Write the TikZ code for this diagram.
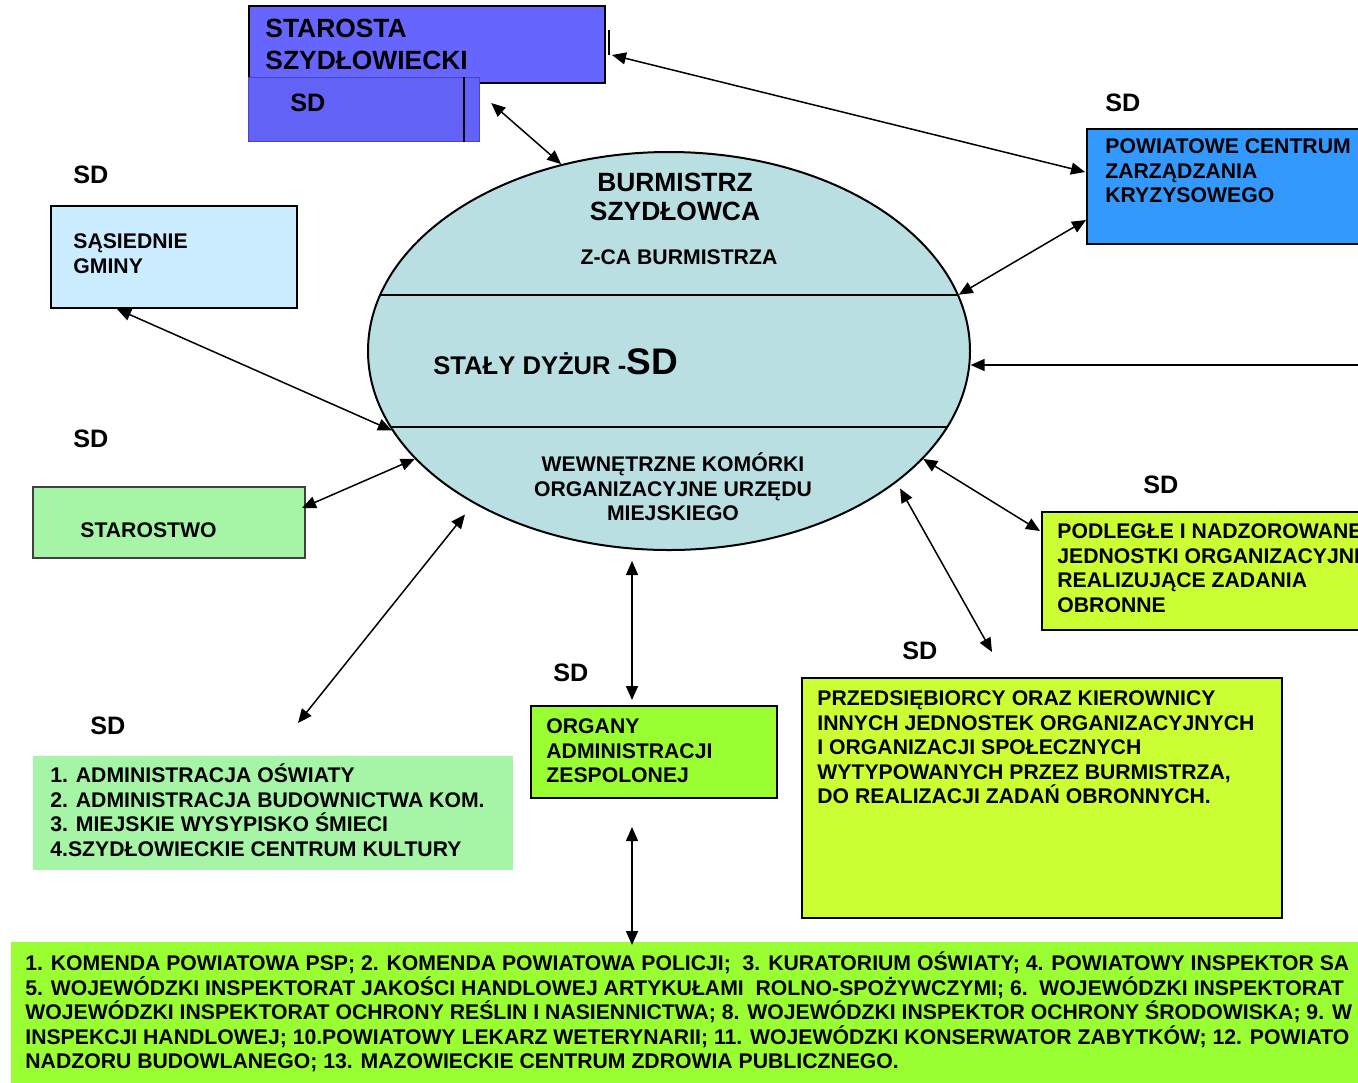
\documentclass[tikz,border=0pt]{standalone}
\usepackage{fontspec}
\setmainfont{Liberation Sans}
\usetikzlibrary{arrows.meta,shapes.geometric,calc}

\definecolor{starblue}{HTML}{6666FF}
\definecolor{sdblue}{HTML}{6262F6}
\definecolor{sdedge}{HTML}{4646C0}
\definecolor{ovalfill}{HTML}{BADFE3}
\definecolor{crisisblue}{HTML}{3399FF}
\definecolor{palesky}{HTML}{CCECFF}
\definecolor{palegreen}{HTML}{A6F5A6}
\definecolor{limegreen}{HTML}{99FF33}
\definecolor{limeyellow}{HTML}{CCFF33}

\begin{document}
\begin{tikzpicture}[x=0.5pt,y=-0.5pt,
    >={Triangle[length=7pt,width=6pt]},
    box/.style={draw=black,line width=1pt,anchor=north west,inner sep=0pt},
    wh/.style 2 args={minimum width=#1*0.5pt,minimum height=#2*0.5pt},
    txt/.style={anchor=base west,align=left,inner sep=0pt,
      font=\fontsize{10.6}{12.25}\selectfont\bfseries},
    ctxt/.style={anchor=base,align=center,inner sep=0pt,
      font=\fontsize{10.6}{12.25}\selectfont\bfseries},
    sdtag/.style={anchor=base west,inner sep=0pt,
      font=\fontsize{12.6}{15}\selectfont\bfseries},
    link/.style={<->,line width=0.75pt}]

  \useasboundingbox (0,0) rectangle (1358,1082);
  \clip (0,0) rectangle (1358,1082);

  % starosta and his SD
  \node[box,wh={356}{77},fill=starblue] (starosta) at (248,5) {};
  \node[box,wh={231}{64},fill=sdblue,draw=sdedge,line width=0.6pt] (sdbox) at (248,77) {};
  \draw[line width=1pt] ($(sdbox.north west)+(216,0)$) -- ($(sdbox.south west)+(216,0)$);
  % (base = last line of the text)
  \node[anchor=base west,align=left,inner sep=0pt,font=\fontsize{13.2}{16}\selectfont\bfseries]
    (starosta-t) at (265,69.5) {STAROSTA\\SZYDŁOWIECKI};
  \node[sdtag] (sdbox-t) at (290,111) {SD};

  % burmistrz oval
  \node[ellipse,draw=black,line width=1pt,fill=ovalfill,inner sep=0pt,
    minimum width=301pt,minimum height=199pt] (burm) at (669,351) {};
  \begin{scope}
    \clip (burm.center) ellipse [x radius=150.5pt,y radius=99.5pt];
    \draw[line width=1pt] (360,295) -- (980,295);
    \draw[line width=1pt] (360,427) -- (980,427);
  \end{scope}
  \node[anchor=base,align=center,inner sep=0pt,font=\fontsize{13.2}{14.5}\selectfont\bfseries]
    (burm-t) at (675,220.5) {BURMISTRZ\\SZYDŁOWCA};
  \node[ctxt] (zca) at (679,264.5) {Z-CA BURMISTRZA};
  \node[anchor=base west,inner sep=0pt,font=\fontsize{12.8}{15}\selectfont\bfseries]
    (dyzur) at (433,374) {STAŁY DYŻUR -{\fontsize{18.5}{20}\selectfont SD}};
  \node[ctxt] (komorki) at (673,520.5) {WEWNĘTRZNE KOMÓRKI\\ORGANIZACYJNE URZĘDU\\MIEJSKIEGO};

  % boxes round the oval
  \node[box,wh={300}{115},fill=crisisblue] (pczk) at (1086,128) {};
  \node[txt] (pczk-t) at (1105,202.5) {POWIATOWE CENTRUM\\ZARZĄDZANIA\\KRYZYSOWEGO};
  \node[sdtag] (pczk-sd) at (1105,111) {SD};

  \node[box,wh={246}{102},fill=palesky] (gminy) at (50,205) {};
  \node[txt] (gminy-t) at (73,273) {SĄSIEDNIE\\GMINY};
  \node[sdtag] (gminy-sd) at (73,183) {SD};

  \node[box,wh={272}{71},fill=palegreen,draw=black!75] (starostwo) at (32,486) {};
  \node[txt] (starostwo-t) at (80,537.5) {STAROSTWO};
  \node[sdtag] (starostwo-sd) at (73,447) {SD};

  \node[box,wh={480}{114},fill=palegreen,draw=none] (lista) at (32,755) {};
  \node[txt] (lista-t) at (50,856) {1. ADMINISTRACJA OŚWIATY\\2. ADMINISTRACJA BUDOWNICTWA KOM.\\3. MIEJSKIE WYSYPISKO ŚMIECI\\4.SZYDŁOWIECKIE CENTRUM KULTURY};
  \node[sdtag] (lista-sd) at (90,734) {SD};

  \node[box,wh={246}{92},fill=limegreen] (organy) at (530,705) {};
  \node[txt] (organy-t) at (546,782.5) {ORGANY\\ADMINISTRACJI\\ZESPOLONEJ};
  \node[sdtag] (organy-sd) at (553,681) {SD};

  \node[box,wh={480}{240},fill=limeyellow] (przeds) at (801,677) {};
  \node[txt] (przeds-t) at (817,803.5) {PRZEDSIĘBIORCY ORAZ KIEROWNICY\\INNYCH JEDNOSTEK ORGANIZACYJNYCH\\I ORGANIZACJI SPOŁECZNYCH\\WYTYPOWANYCH PRZEZ BURMISTRZA,\\DO REALIZACJI ZADAŃ OBRONNYCH.};
  \node[sdtag] (przeds-sd) at (902,659) {SD};

  \node[box,wh={330}{118},fill=limeyellow] (podlegle) at (1041,511) {};
  \node[txt] (podlegle-t) at (1057,612) {PODLEGŁE I NADZOROWANE\\JEDNOSTKI ORGANIZACYJNE\\REALIZUJĄCE ZADANIA\\OBRONNE};
  \node[sdtag] (podlegle-sd) at (1143,493) {SD};

  \node[box,wh={1360}{150},fill=limegreen,draw=none] (wykaz) at (10,941) {};
  \node[txt] (wykaz-t) at (25,1068.5) {1. KOMENDA POWIATOWA PSP; 2. KOMENDA POWIATOWA POLICJI;\ \ 3. KURATORIUM OŚWIATY; 4. POWIATOWY INSPEKTOR SA\\5. WOJEWÓDZKI INSPEKTORAT JAKOŚCI HANDLOWEJ ARTYKUŁAMI\ \ ROLNO-SPOŻYWCZYMI; 6.\ \ WOJEWÓDZKI INSPEKTORAT\\WOJEWÓDZKI INSPEKTORAT OCHRONY REŚLIN I NASIENNICTWA; 8. WOJEWÓDZKI INSPEKTOR OCHRONY ŚRODOWISKA; 9. W\\INSPEKCJI HANDLOWEJ; 10.POWIATOWY LEKARZ WETERYNARII; 11. WOJEWÓDZKI KONSERWATOR ZABYTKÓW; 12. POWIATO\\NADZORU BUDOWLANEGO; 13. MAZOWIECKIE CENTRUM ZDROWIA PUBLICZNEGO.};

  % free ends
  \coordinate (rightend) at (1360,365);
  \coordinate (listtop) at (298,723);
  \coordinate (przedstop) at (992,652);

  % connectors
  \draw[line width=1pt] ($(starosta.north east)+(3,25)$) -- ++(0,25);
  \draw[link] ($(starosta.north east)+(6,50)$) -- ($(pczk.north west)+(-1,44)$);
  \draw[link] ($(sdbox.north east)+(11,26)$) -- (burm.120.6);
  \draw[link] (burm.11.3) -- ($(pczk.south west)+(0,-25)$);
  \draw[->,line width=0.75pt] (rightend) -- (rightend -| burm.-2.7);
  \draw[link] (burm.196.7) -- ($(gminy.south west)+(67,0)$);
  \draw[link] (burm.203.7) -- ($(starostwo.north east)+(-4,22)$);
  \draw[link,shorten <=7pt] (burm.218) -- (listtop);
  \draw[link] ($(burm.south)+(-37,10)$) -- ($(organy.north west)+(102,-5)$);
  \draw[link] ($(organy.south west)+(102,28)$) -- ($(wykaz.north west)+(622,4)$);
  \draw[link,shorten <=3.5pt] (burm.-30.5) -- (przedstop);
  \draw[link] (burm.-23.7) -- ($(podlegle.north west)+(-1,20)$);
\end{tikzpicture}
\end{document}
